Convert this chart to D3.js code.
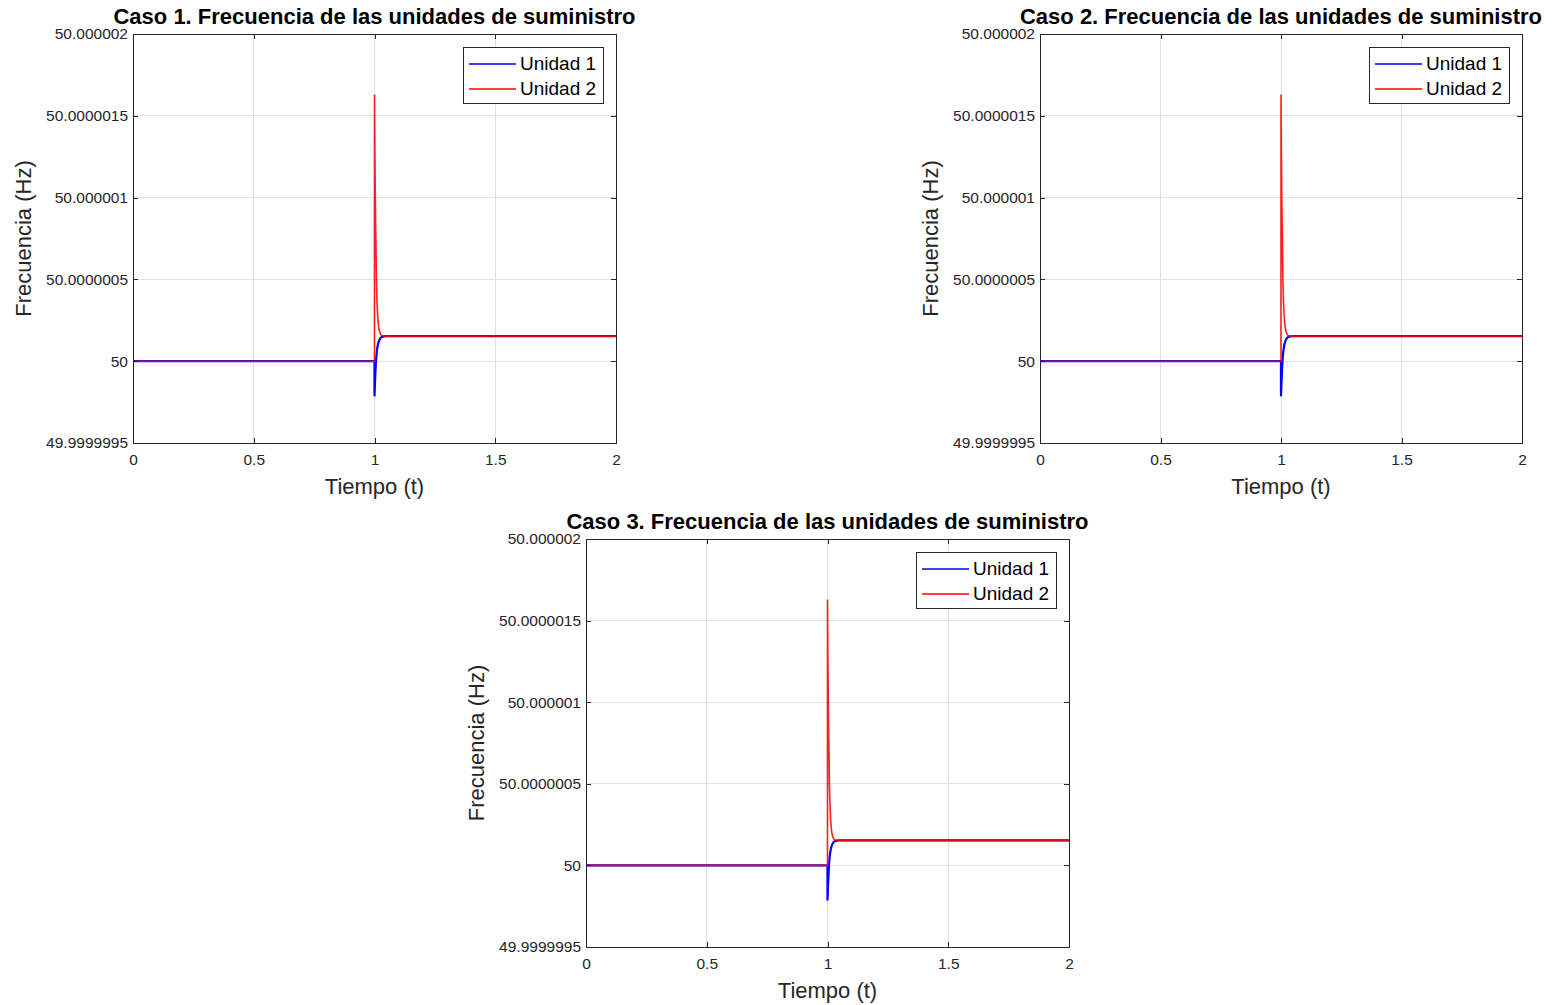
<!DOCTYPE html>
<html><head><meta charset="utf-8">
<script src="https://cdn.jsdelivr.net/npm/d3@7"></script>
<style>body{margin:0;background:#fff}svg{display:block}</style>
</head><body>
<script>
// ---- data ----
const titles = ["Caso 1. Frecuencia de las unidades de suministro",
                "Caso 2. Frecuencia de las unidades de suministro",
                "Caso 3. Frecuencia de las unidades de suministro"];
const seriesNames = ["Unidad 1", "Unidad 2"];
const seriesColors = ["#0000ff", "#ff0000"];
const xTicks = [0, 0.5, 1, 1.5, 2];
const xTickLabels = ["0", "0.5", "1", "1.5", "2"];
const yTicks = [49.9999995, 50, 50.0000005, 50.000001, 50.0000015, 50.000002];
const yTickLabels = ["49.9999995", "50", "50.0000005", "50.000001", "50.0000015", "50.000002"];
const yDomain = [49.9999995, 50.000002];
const xDomain = [0, 2];
// Unidad 1 (blue)
const t1 = [0, 0.9999, 1.0000, 1.002, 1.004, 1.006, 1.008, 1.010, 1.0125, 1.015, 1.020, 1.025, 1.030, 1.040, 1.050, 2.0];
const f1 = [50, 50, 49.999999785, 49.99999987, 49.99999994, 49.999999995, 50.000000035, 50.000000065, 50.00000009, 50.000000108, 50.00000013, 50.000000142, 50.000000148, 50.000000152, 50.000000153, 50.000000153];
// Unidad 2 (red)
const t2 = [0, 0.9999, 1.0000, 1.001, 1.002, 1.003, 1.004, 1.005, 1.0065, 1.008, 1.010, 1.0125, 1.015, 1.0175, 1.020, 1.025, 1.030, 1.040, 1.050, 2.0];
const f2 = [50, 50, 50.00000163, 50.00000142, 50.00000122, 50.00000105, 50.00000092, 50.0000008, 50.00000066, 50.0000005, 50.00000038, 50.000000295, 50.00000024, 50.000000205, 50.000000185, 50.000000165, 50.000000157, 50.000000154, 50.000000153, 50.000000153];

// ---- layout ----
const panels = [
  {x0: 133, x1: 616, y0: 34, y1: 443},
  {x0: 1040, x1: 1522, y0: 34, y1: 443},
  {x0: 586, x1: 1069, y0: 539, y1: 947}
];
const W = 1552, H = 1005;
const svg = d3.select("body").append("svg").attr("width", W).attr("height", H);
const font = "'Liberation Sans', Arial, Helvetica, sans-serif";
const axisCol = "#262626";

panels.forEach((p, i) => {
  const x = d3.scaleLinear().domain(xDomain).range([p.x0, p.x1]);
  const y = d3.scaleLinear().domain(yDomain).range([p.y1, p.y0]);
  const g = svg.append("g");

  // grid
  g.append("g").selectAll("line.gx").data(xTicks).join("line")
    .attr("x1", d => x(d)).attr("x2", d => x(d)).attr("y1", p.y0).attr("y2", p.y1)
    .attr("stroke", "#e1e1e1").attr("stroke-width", 1).attr("shape-rendering", "crispEdges");
  g.append("g").selectAll("line.gy").data(yTicks).join("line")
    .attr("y1", d => y(d)).attr("y2", d => y(d)).attr("x1", p.x0).attr("x2", p.x1)
    .attr("stroke", "#e1e1e1").attr("stroke-width", 1).attr("shape-rendering", "crispEdges");

  // lines
  const line = d3.line().x(d => x(d[0])).y(d => y(d[1]));
  const d1 = t1.map((t, k) => [t, f1[k]]);
  const d2 = t2.map((t, k) => [t, f2[k]]);
  g.append("path").datum(d1).attr("d", line).attr("fill", "none")
    .attr("stroke", seriesColors[0]).attr("stroke-width", 2.2);
  g.append("path").datum(d2).attr("d", line).attr("fill", "none")
    .attr("stroke", seriesColors[1]).attr("stroke-width", 1.6).attr("stroke-opacity", 0.88);

  // axes (MATLAB style: ticks inward, box)
  const xb = d3.axisBottom(x).tickValues(xTicks).tickFormat((d, k) => xTickLabels[k]).tickSize(-5).tickPadding(11);
  const xt = d3.axisTop(x).tickValues(xTicks).tickFormat("").tickSize(-5);
  const yl = d3.axisLeft(y).tickValues(yTicks).tickFormat((d, k) => yTickLabels[k]).tickSize(-5).tickPadding(5);
  const yr = d3.axisRight(y).tickValues(yTicks).tickFormat("").tickSize(-5);
  [[xb, `translate(0,${p.y1})`], [xt, `translate(0,${p.y0})`], [yl, `translate(${p.x0},0)`], [yr, `translate(${p.x1},0)`]]
    .forEach(([ax, tr]) => {
      const a = g.append("g").attr("transform", tr).call(ax);
      a.selectAll("path,line").attr("stroke", axisCol).attr("shape-rendering", "crispEdges");
      a.selectAll("text").attr("fill", axisCol).style("font-family", font).style("font-size", "15.5px");
    });

  // title
  g.append("text").attr("x", (p.x0 + p.x1) / 2).attr("y", p.y0 - 10)
    .attr("text-anchor", "middle").style("font-family", font).style("font-size", "22px")
    .style("font-weight", "bold").attr("fill", "#000").text(titles[i]);
  // x label
  g.append("text").attr("x", (p.x0 + p.x1) / 2).attr("y", p.y1 + 51)
    .attr("text-anchor", "middle").style("font-family", font).style("font-size", "22px")
    .attr("fill", axisCol).text("Tiempo (t)");
  // y label
  g.append("text").attr("transform", `translate(${p.x0 - 102},${(p.y0 + p.y1) / 2}) rotate(-90)`)
    .attr("text-anchor", "middle").style("font-family", font).style("font-size", "22px")
    .attr("fill", axisCol).text("Frecuencia (Hz)");

  // legend
  const lx = p.x1 - 153, ly = p.y0 + 13, lw = 140, lh = 56;
  const lg = g.append("g");
  lg.append("rect").attr("x", lx + 0.5).attr("y", ly + 0.5).attr("width", lw).attr("height", lh)
    .attr("fill", "#fff").attr("stroke", "#262626").attr("stroke-width", 1);
  seriesNames.forEach((nm, k) => {
    const yy = ly + 17 + k * 25;
    lg.append("line").attr("x1", lx + 6).attr("x2", lx + 53).attr("y1", yy).attr("y2", yy)
      .attr("stroke", seriesColors[k]).attr("stroke-width", 1.5);
    lg.append("text").attr("x", lx + 57).attr("y", yy + 6).style("font-family", font)
      .style("font-size", "19px").attr("fill", "#000").text(nm);
  });
});
</script>
</body></html>
